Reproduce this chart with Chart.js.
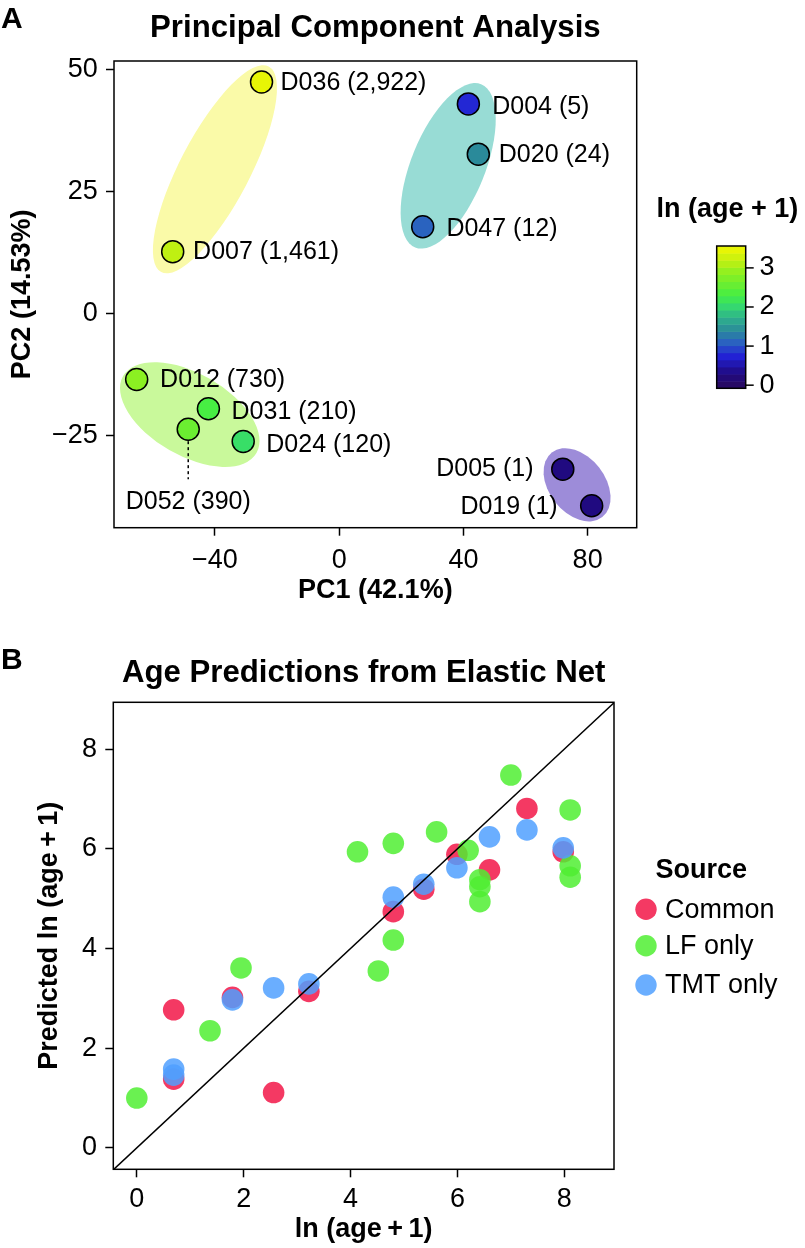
<!DOCTYPE html>
<html>
<head>
<meta charset="utf-8">
<script src="https://cdn.jsdelivr.net/npm/chart.js@4.4.1/dist/chart.umd.min.js"></script>
<style>
  body { margin: 0; background: #fff; }
  canvas { display: block; }
</style>
</head>
<body>
<canvas id="pcaChart" width="805" height="610"></canvas>
<canvas id="ageChart" width="805" height="638"></canvas>
<script>
const FONT = "'Liberation Sans', Arial, Helvetica, sans-serif";
Chart.defaults.font.family = FONT;
Chart.defaults.color = '#000';

// ---- Panel A: PCA ----
const pcaSamples = ['D036', 'D007', 'D004', 'D020', 'D047', 'D012', 'D031', 'D052', 'D024', 'D005', 'D019'];
const pcaAges = ['2,922', '1,461', '5', '24', '12', '730', '210', '390', '120', '1', '1'];
const pc1 = [-25.0, -53.6, 41.6, 44.8, 26.9, -65.2, -42.1, -48.6, -30.9, 72.0, 81.3];
const pc2 = [47.5, 12.7, 43.0, 32.7, 17.8, -13.5, -19.5, -23.7, -26.2, -31.9, -39.4];
const pcaAgeScore = [3.47, 3.17, 0.78, 1.40, 1.11, 2.86, 2.32, 2.59, 2.08, 0.30, 0.30];
const pcaXTicks = [-40, 0, 40, 80];
const pcaYTicks = [-25, 0, 25, 50];
const colourbarTicks = [0, 1, 2, 3];

// ---- Panel B: elastic net predictions ----
const commonX = [0.69, 0.69, 1.79, 2.56, 3.22, 4.80, 5.37, 5.99, 6.60, 7.30, 7.98];
const commonY = [2.77, 1.38, 3.02, 1.11, 3.14, 4.74, 5.19, 5.89, 5.58, 6.81, 5.94];
const lfX = [0.00, 1.37, 1.95, 4.13, 4.52, 4.80, 4.80, 5.61, 6.20, 6.42, 6.42, 6.42, 7.00, 8.11, 8.11, 8.11];
const lfY = [1.00, 2.35, 3.61, 5.94, 3.55, 6.11, 4.17, 6.34, 5.97, 5.38, 5.24, 4.94, 7.48, 6.78, 5.66, 5.43];
const tmtX = [0.69, 0.69, 1.79, 2.56, 3.22, 4.80, 5.37, 5.99, 6.60, 7.30, 7.98];
const tmtY = [1.58, 1.46, 2.97, 3.21, 3.29, 5.03, 5.29, 5.62, 6.24, 6.38, 6.02];
const ageTicks = [0, 2, 4, 6, 8];
const identityLine = [-1, 10];

// colour scale used for points and colourbar
const colourStops = [
  [-0.1, [42, 10, 90]], [0.3, [32, 10, 128]], [0.75, [34, 34, 214]], [1.1, [42, 98, 192]],
  [1.4, [42, 138, 154]], [1.75, [46, 180, 138]], [2.05, [54, 220, 108]], [2.3, [68, 238, 68]],
  [2.6, [108, 238, 48]], [2.9, [144, 240, 32]], [3.2, [196, 240, 16]], [3.6, [248, 248, 0]]
];
function ageColour(v) {
  for (let i = 1; i < colourStops.length; i++) {
    const [v1, c1] = colourStops[i];
    const [v0, c0] = colourStops[i - 1];
    if (v <= v1 || i === colourStops.length - 1) {
      const t = Math.max(0, Math.min(1, (v - v0) / (v1 - v0)));
      const c = c0.map((a, k) => Math.round(a + (c1[k] - a) * t));
      return `rgb(${c[0]},${c[1]},${c[2]})`;
    }
  }
}

// group ellipses: centre in data units, radii in px, angle in degrees
const groupEllipses = [
  { cx: -40.0, cy: 29.6, rx: 116, ry: 35, angle: -62.4, fill: '#fafaa8' },
  { cx: 35.1, cy: 30.3, rx: 88, ry: 37, angle: -68, fill: '#98dcd5' },
  { cx: -48.1, cy: -20.7, rx: 77, ry: 41, angle: 30, fill: '#c9f99b' },
  { cx: 76.6, cy: -35.1, rx: 41, ry: 28, angle: 52, fill: '#9d8cd9' }
];
// label nudges in px from point centre [dx, dy, align]
const labelNudge = {
  D036: [19, 1.6, 'left'], D007: [20.4, 0, 'left'], D004: [23.8, 2.7, 'left'], D020: [20.5, 1, 'left'],
  D047: [23.7, 2.8, 'left'], D012: [23.4, 1, 'left'], D031: [23.1, 3.7, 'left'], D024: [23.1, 4, 'left'],
  D005: [-29.3, 0, 'right'], D019: [-34, 1.5, 'right'], D052: [0, 72.7, 'center']
};

const minus = v => String(v).replace('-', '\u2212');

function drawFrame(ctx, a) {
  ctx.save();
  ctx.strokeStyle = '#000';
  ctx.lineWidth = 1.5;
  ctx.strokeRect(a.left, a.top, a.right - a.left, a.bottom - a.top);
  ctx.restore();
}
function drawHeading(ctx, a, letter, title, letterY, titleY) {
  ctx.save();
  ctx.fillStyle = '#000';
  ctx.textBaseline = 'middle';
  ctx.font = `bold 30px ${FONT}`;
  ctx.textAlign = 'left';
  ctx.fillText(letter, 1, letterY);
  ctx.font = `bold 31.2px ${FONT}`;
  ctx.textAlign = 'center';
  ctx.fillText(title, (a.left + a.right) / 2, titleY);
  ctx.restore();
}

const pcaDecor = {
  id: 'pcaDecor',
  beforeDatasetsDraw(chart) {
    const { ctx, scales: { x, y } } = chart;
    ctx.save();
    groupEllipses.forEach(e => {
      ctx.beginPath();
      ctx.ellipse(x.getPixelForValue(e.cx), y.getPixelForValue(e.cy), e.rx, e.ry, e.angle * Math.PI / 180, 0, 2 * Math.PI);
      ctx.fillStyle = e.fill;
      ctx.fill();
    });
    // leader for the label placed below its point
    const meta = chart.getDatasetMeta(0);
    pcaSamples.forEach((s, i) => {
      if (labelNudge[s][2] !== 'center') return;
      const p = meta.data[i];
      ctx.beginPath();
      ctx.setLineDash([3, 3]);
      ctx.lineWidth = 1.5;
      ctx.strokeStyle = '#000';
      ctx.moveTo(p.x, p.y + 12);
      ctx.lineTo(p.x, p.y + 50);
      ctx.stroke();
    });
    ctx.restore();
  },
  afterDatasetsDraw(chart) {
    const { ctx } = chart;
    const meta = chart.getDatasetMeta(0);
    ctx.save();
    ctx.fillStyle = '#000';
    ctx.font = `25px ${FONT}`;
    ctx.textBaseline = 'middle';
    pcaSamples.forEach((s, i) => {
      const p = meta.data[i];
      const [dx, dy, align] = labelNudge[s];
      ctx.textAlign = align;
      ctx.fillText(`${s} (${pcaAges[i]})`, p.x + dx, p.y + dy);
    });
    ctx.restore();
    drawFrame(ctx, chart.chartArea);
  },
  afterDraw(chart) {
    const { ctx, chartArea } = chart;
    drawHeading(ctx, chartArea, 'A', 'Principal Component Analysis', 20, 28.8);
    // colourbar legend
    const bar = { left: 716.7, width: 29, top: 246, bottom: 388.3, min: -0.08, max: 3.56 };
    const toY = v => bar.bottom - (v - bar.min) / (bar.max - bar.min) * (bar.bottom - bar.top);
    ctx.save();
    ctx.fillStyle = '#000';
    ctx.font = `bold 27px ${FONT}`;
    ctx.textAlign = 'left';
    ctx.textBaseline = 'middle';
    ctx.fillText('ln (age + 1)', 656.5, 210);
    const bands = 20;
    const step = (bar.max - bar.min) / bands;
    for (let b = 0; b < bands; b++) {
      const v0 = bar.min + b * step;
      ctx.fillStyle = ageColour(v0 + step / 2);
      const yTop = toY(v0 + step), yBot = toY(v0);
      ctx.fillRect(bar.left, yTop, bar.width, yBot - yTop + 0.5);
    }
    ctx.strokeStyle = '#000';
    ctx.lineWidth = 1.5;
    ctx.strokeRect(bar.left, bar.top, bar.width, bar.bottom - bar.top);
    ctx.font = `27px ${FONT}`;
    ctx.fillStyle = '#000';
    colourbarTicks.forEach(t => {
      const ty = toY(t);
      ctx.beginPath();
      ctx.moveTo(bar.left + bar.width, ty);
      ctx.lineTo(bar.left + bar.width + 8, ty);
      ctx.stroke();
      ctx.fillText(String(t), 759.5, ty);
    });
    ctx.restore();
  }
};

new Chart(document.getElementById('pcaChart'), {
  type: 'scatter',
  data: {
    datasets: [{
      data: pc1.map((x, i) => ({ x, y: pc2[i] })),
      backgroundColor: pcaAgeScore.map(ageColour),
      borderColor: '#000',
      borderWidth: 1.5,
      pointRadius: 11,
      pointHoverRadius: 11
    }]
  },
  options: {
    responsive: false,
    animation: false,
    devicePixelRatio: 1,
    events: [],
    layout: { padding: { top: 61, right: 168.3, left: 0, bottom: 0 } },
    plugins: { legend: { display: false }, tooltip: { enabled: false } },
    scales: {
      x: {
        type: 'linear', min: -72.5, max: 95.8,
        afterBuildTicks: s => { s.ticks = pcaXTicks.map(v => ({ value: v })); },
        afterFit: s => { s.height = 82.3; },
        grid: { drawOnChartArea: false, color: '#000', tickLength: 8, tickWidth: 1.5 },
        border: { display: false },
        ticks: { color: '#000', padding: 8.5, maxRotation: 0, autoSkip: false, font: { size: 27 }, callback: v => minus(v) },
        title: { display: true, text: 'PC1 (42.1%)', color: '#000', font: { size: 27, weight: 'bold' }, padding: { top: 0, bottom: 2.8 } }
      },
      y: {
        type: 'linear', min: -43.9, max: 51.8,
        afterBuildTicks: s => { s.ticks = pcaYTicks.map(v => ({ value: v })); },
        afterFit: s => { s.width = 114; },
        grid: { drawOnChartArea: false, color: '#000', tickLength: 8, tickWidth: 1.5 },
        border: { display: false },
        ticks: { color: '#000', padding: 8.3, autoSkip: false, font: { size: 27 }, callback: v => minus(v) },
        title: { display: true, text: 'PC2 (14.53%)', color: '#000', font: { size: 27, weight: 'bold' }, padding: { top: 6.3, bottom: 0 } }
      }
    }
  },
  plugins: [pcaDecor]
});

// ---- Panel B ----
const ageDecor = {
  id: 'ageDecor',
  afterDatasetsDraw(chart) {
    drawFrame(chart.ctx, chart.chartArea);
  },
  afterDraw(chart) {
    const { ctx, chartArea } = chart;
    drawHeading(ctx, chartArea, 'B', 'Age Predictions from Elastic Net', 50.5, 63.5);
    ctx.save();
    ctx.fillStyle = '#000';
    ctx.textBaseline = 'middle';
    ctx.textAlign = 'left';
    ctx.font = `bold 27px ${FONT}`;
    ctx.fillText('Source', 655.5, 260.7);
    ctx.font = `27px ${FONT}`;
    const rows = [299.3, 335.7, 375];
    chart.data.datasets.filter(d => d.label).forEach((d, i) => {
      ctx.beginPath();
      ctx.arc(646, rows[i], 10.7, 0, 2 * Math.PI);
      ctx.fillStyle = d.backgroundColor;
      ctx.fill();
      ctx.fillStyle = '#000';
      ctx.fillText(d.label, 665, rows[i] + 1);
    });
    ctx.restore();
  }
};

const pointStyle = { pointRadius: 10.8, pointHoverRadius: 10.8, borderWidth: 0 };
new Chart(document.getElementById('ageChart'), {
  type: 'scatter',
  data: {
    datasets: [
      { label: 'Common', data: commonX.map((x, i) => ({ x, y: commonY[i] })), backgroundColor: 'rgba(242,22,72,0.85)', order: 3, ...pointStyle },
      { label: 'LF only', data: lfX.map((x, i) => ({ x, y: lfY[i] })), backgroundColor: 'rgba(80,238,50,0.85)', order: 2, ...pointStyle },
      { label: 'TMT only', data: tmtX.map((x, i) => ({ x, y: tmtY[i] })), backgroundColor: 'rgba(80,160,255,0.85)', order: 1, ...pointStyle },
      { type: 'line', data: identityLine.map(v => ({ x: v, y: v })), borderColor: '#000', borderWidth: 1.5, pointRadius: 0, clip: 0, order: 0 }
    ]
  },
  options: {
    responsive: false,
    animation: false,
    devicePixelRatio: 1,
    events: [],
    layout: { padding: { top: 92.3, right: 191, left: 0, bottom: 0 } },
    plugins: { legend: { display: false }, tooltip: { enabled: false } },
    scales: {
      x: {
        type: 'linear', min: -0.44, max: 8.93,
        afterBuildTicks: s => { s.ticks = ageTicks.map(v => ({ value: v })); },
        afterFit: s => { s.height = 78.7; },
        grid: { drawOnChartArea: false, color: '#000', tickLength: 8, tickWidth: 1.5 },
        border: { display: false },
        ticks: { color: '#000', padding: 6, maxRotation: 0, autoSkip: false, font: { size: 27 } },
        title: { display: true, text: 'ln (age\u2009+\u20091)', color: '#000', font: { size: 27, weight: 'bold' }, padding: { top: 0, bottom: 2.3 } }
      },
      y: {
        type: 'linear', min: -0.43, max: 8.94,
        afterBuildTicks: s => { s.ticks = ageTicks.map(v => ({ value: v })); },
        afterFit: s => { s.width = 113.3; },
        grid: { drawOnChartArea: false, color: '#000', tickLength: 8, tickWidth: 1.5 },
        border: { display: false },
        ticks: { color: '#000', padding: 8.3, autoSkip: false, font: { size: 27 } },
        title: { display: true, text: 'Predicted ln (age\u2009+\u20091)', color: '#000', font: { size: 27, weight: 'bold' }, padding: { top: 33.3, bottom: 0 } }
      }
    }
  },
  plugins: [ageDecor]
});
</script>
</body>
</html>
